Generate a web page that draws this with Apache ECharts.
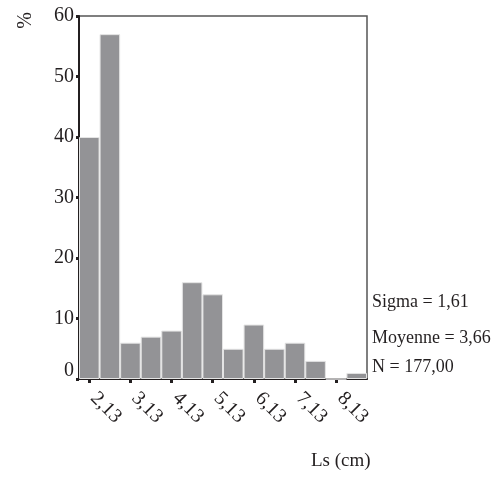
<!DOCTYPE html>
<html>
<head>
<meta charset="utf-8">
<script src="https://cdn.jsdelivr.net/npm/echarts@6/dist/echarts.min.js"></script>
<style>
    html, body { margin: 0; padding: 0; background: #fff; }
    #chart { width: 500px; height: 477px; }
</style>
</head>
<body>
<div id="chart"></div>
<script>
// bins of Ls (cm), width 0.5
var categories = ['2,13', '2,63', '3,13', '3,63', '4,13', '4,63', '5,13', '5,63',
                  '6,13', '6,63', '7,13', '7,63', '8,13', '8,63'];
var counts = [40, 57, 6, 7, 8, 16, 14, 5, 9, 5, 6, 3, 0, 1];
var yTicks = [0, 10, 20, 30, 40, 50, 60];
var statsLines = ['Sigma = 1,61', 'Moyenne = 3,66', 'N = 177,00'];

var serif = '"Liberation Serif", "DejaVu Serif", serif';
var ink = '#231f20';

var chart = echarts.init(document.getElementById('chart'));
var option = {
    animation: false,
    grid: {
        left: 79, right: 133, top: 16, bottom: 98,
        show: true, borderColor: '#555', borderWidth: 1.5
    },
    xAxis: {
        type: 'category',
        data: categories,
        axisLine: { lineStyle: { color: ink, width: 2 } },
        axisTick: { show: true, interval: 1, alignWithLabel: true, length: 4, lineStyle: { color: ink, width: 3 } },
        axisLabel: {
            interval: 1, rotate: -45, margin: 12,
            fontFamily: serif, fontSize: 20, color: ink,
            padding: [0, 0, 0, 6]
        }
    },
    yAxis: {
        type: 'value',
        min: yTicks[0], max: yTicks[yTicks.length - 1], interval: 10,
        splitLine: { show: false },
        axisLine: { show: true, lineStyle: { color: ink, width: 2 } },
        axisTick: { show: true, length: 3, lineStyle: { color: ink, width: 3 } },
        axisLabel: {
            fontFamily: serif, fontSize: 20, color: ink, margin: 5,
            formatter: function (v) { return v === 0 ? '{z|0}' : String(v); },
            rich: { z: { fontFamily: serif, fontSize: 20, color: ink, padding: [0, 0, 16, 0] } }
        }
    },
    series: [{
        type: 'bar',
        data: counts,
        barCategoryGap: '0%',
        itemStyle: { color: '#939396', borderColor: '#e4e4e4', borderWidth: 1 }
    }],
    graphic: [
        { type: 'text', left: 16, top: 12, rotation: Math.PI / 2,
          style: { text: '%', font: '20px ' + serif, fill: ink } },
        { type: 'text', left: 372, top: 293, style: { text: statsLines[0], font: '18px ' + serif, fill: ink } },
        { type: 'text', left: 372, top: 329, style: { text: statsLines[1], font: '18px ' + serif, fill: ink } },
        { type: 'text', left: 372, top: 358, style: { text: statsLines[2], font: '18px ' + serif, fill: ink } },
        { type: 'text', left: 311, top: 452, style: { text: 'Ls (cm)', font: '19px ' + serif, fill: ink } }
    ]
};
chart.setOption(option);
</script>
</body>
</html>
